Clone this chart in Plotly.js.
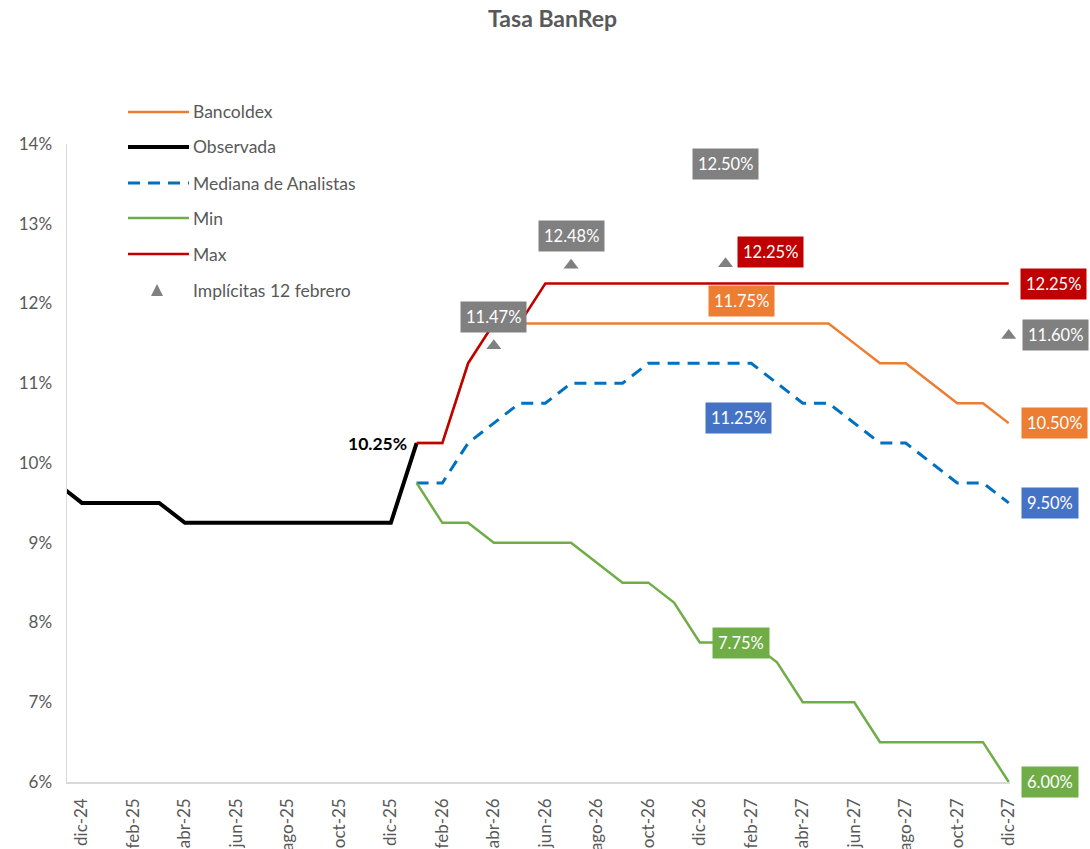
<!DOCTYPE html>
<html>
<head>
<meta charset="utf-8">
<script src="https://cdn.plot.ly/plotly-3.0.1.min.js"></script>
<style>
  html, body { margin: 0; padding: 0; background: #fff; }
  #chart { width: 1090px; height: 849px; }
</style>
</head>
<body>
<div id="chart"></div>
<script>
// months on the category axis (nov-24 is only there so the line enters from the left edge)
const months = ['nov-24','dic-24','ene-25','feb-25','mar-25','abr-25','may-25','jun-25','jul-25','ago-25',
  'sep-25','oct-25','nov-25','dic-25','ene-26','feb-26','mar-26','abr-26','may-26','jun-26','jul-26',
  'ago-26','sep-26','oct-26','nov-26','dic-26','ene-27','feb-27','mar-27','abr-27','may-27','jun-27',
  'jul-27','ago-27','sep-27','oct-27','nov-27','dic-27'];

const observedMonths = months.slice(0, 15);   // nov-24 .. ene-26
const observada = [9.75, 9.5, 9.5, 9.5, 9.5, 9.25, 9.25, 9.25, 9.25, 9.25, 9.25, 9.25, 9.25, 9.25, 10.25];

const forecastMonths = months.slice(14);      // ene-26 .. dic-27
const bancoldex = [10.25, 10.25, 11.25, 11.75, 11.75, 11.75, 11.75, 11.75, 11.75, 11.75, 11.75, 11.75,
  11.75, 11.75, 11.75, 11.75, 11.75, 11.5, 11.25, 11.25, 11.0, 10.75, 10.75, 10.5];
const mediana = [9.75, 9.75, 10.25, 10.5, 10.75, 10.75, 11.0, 11.0, 11.0, 11.25, 11.25, 11.25,
  11.25, 11.25, 11.0, 10.75, 10.75, 10.5, 10.25, 10.25, 10.0, 9.75, 9.75, 9.5];
const minimo = [9.75, 9.25, 9.25, 9.0, 9.0, 9.0, 9.0, 8.75, 8.5, 8.5, 8.25, 7.75,
  7.75, 7.75, 7.5, 7.0, 7.0, 7.0, 6.5, 6.5, 6.5, 6.5, 6.5, 6.0];
const maximo = [10.25, 10.25, 11.25, 11.75, 11.75, 12.25, 12.25, 12.25, 12.25, 12.25, 12.25, 12.25,
  12.25, 12.25, 12.25, 12.25, 12.25, 12.25, 12.25, 12.25, 12.25, 12.25, 12.25, 12.25];

const implicitMonths = ['abr-26', 'jul-26', 'ene-27', 'dic-27'];
const implicitas = [11.47, 12.48, 12.50, 11.60];

const tickMonths = months.filter((m, i) => i % 2 === 1);

const C = {
  orange: '#ED7D31', black: '#000000', blue: '#0070C0', green: '#70AD47',
  red: '#C00000', grey: '#808080', boxBlue: '#4472C4', text: '#595959'
};
const FONT = 'Lato, "Open Sans", sans-serif';

const traces = [
  { x: forecastMonths, y: bancoldex, name: 'Bancoldex', mode: 'lines', line: { color: C.orange, width: 2.5 } },
  { x: observedMonths, y: observada, name: 'Observada', mode: 'lines', line: { color: C.black, width: 4 } },
  { x: forecastMonths, y: mediana, name: 'Mediana de Analistas', mode: 'lines',
    line: { color: C.blue, width: 3, dash: '12px,8px' } },
  { x: forecastMonths, y: minimo, name: 'Min', mode: 'lines', line: { color: C.green, width: 2.5 } },
  { x: forecastMonths, y: maximo, name: 'Max', mode: 'lines', line: { color: C.red, width: 2.5 } },
  { x: implicitMonths, y: implicitas, name: 'Implícitas 12 febrero', mode: 'markers', cliponaxis: false,
    marker: { symbol: 'triangle-up', size: 13, color: C.grey } }
];

// helpers: pixel -> paper coords (plot area 67..1010 x 144..782)
const px = p => (p - 67) / 943;
const py = p => (782 - p) / 638;

const last = a => a[a.length - 1];
const at = (arrX, arrY, m) => arrY[arrX.indexOf(m)];
const pct = v => v.toFixed(2) + '%';

function box(x, y, text, bg, opts) {
  return Object.assign({
    x: x, y: y, xref: 'x', yref: 'y', text: text, showarrow: false,
    bgcolor: bg, borderpad: 5, font: { family: FONT, size: 16.5, color: '#ffffff' }
  }, opts || {});
}

const annotations = [
  // right edge labels
  box('dic-27', last(maximo), pct(last(maximo)), C.red, { xanchor: 'left', xshift: 11 }),
  box('dic-27', last(implicitas), pct(last(implicitas)), C.grey, { xanchor: 'left', xshift: 13 }),
  box('dic-27', last(bancoldex), pct(last(bancoldex)), C.orange, { xanchor: 'left', xshift: 12 }),
  box('dic-27', last(mediana), pct(last(mediana)), C.boxBlue, { xanchor: 'left', xshift: 12 }),
  box('dic-27', last(minimo), pct(last(minimo)), C.green, { xanchor: 'left', xshift: 12 }),
  // implied rates
  box('abr-26', implicitas[0], pct(implicitas[0]), C.grey, { yshift: 29 }),
  box('jul-26', implicitas[1], pct(implicitas[1]), C.grey, { yshift: 29 }),
  box('ene-27', implicitas[2], pct(implicitas[2]), C.grey, { yshift: 100 }),
  // mid labels
  box('feb-27', at(forecastMonths, maximo, 'feb-27'), pct(at(forecastMonths, maximo, 'feb-27')), C.red,
    { xshift: 19, yshift: 32 }),
  box('feb-27', at(forecastMonths, bancoldex, 'feb-27'), pct(at(forecastMonths, bancoldex, 'feb-27')), C.orange,
    { xshift: -10, yshift: 22 }),
  box('feb-27', at(forecastMonths, mediana, 'feb-27'), pct(at(forecastMonths, mediana, 'feb-27')), C.boxBlue,
    { xshift: -13, yshift: -55 }),
  box('feb-27', at(forecastMonths, minimo, 'feb-27'), pct(at(forecastMonths, minimo, 'feb-27')), C.green,
    { xshift: -10, yshift: -1 }),
  // last observed
  { x: 'ene-26', y: last(observada), xref: 'x', yref: 'y', text: '<b>' + pct(last(observada)) + '</b>',
    showarrow: false, xanchor: 'right', xshift: -8, font: { family: FONT, size: 17.5, color: '#000' } }
];

// hand-drawn legend, excel style
const legendRows = [
  { name: 'Bancoldex', color: C.orange, width: 2.5, dash: 'solid', y: 112 },
  { name: 'Observada', color: C.black, width: 4, dash: 'solid', y: 147 },
  { name: 'Mediana de Analistas', color: C.blue, width: 3, dash: '12px,8px', y: 183 },
  { name: 'Min', color: C.green, width: 2.5, dash: 'solid', y: 218 },
  { name: 'Max', color: C.red, width: 2.5, dash: 'solid', y: 254 }
];
const shapes = legendRows.map(r => ({
  type: 'line', xref: 'paper', yref: 'paper', x0: px(128), x1: px(189), y0: py(r.y), y1: py(r.y),
  line: { color: r.color, width: r.width, dash: r.dash }
}));
shapes.push({
  type: 'path', xref: 'paper', yref: 'paper', fillcolor: C.grey, line: { width: 0 },
  path: `M ${px(151)},${py(296)} L ${px(163)},${py(296)} L ${px(157)},${py(284)} Z`
});
legendRows.concat([{ name: 'Implícitas 12 febrero', y: 290 }]).forEach(r => {
  annotations.push({
    xref: 'paper', yref: 'paper', x: px(191), y: py(r.y), xanchor: 'left', yanchor: 'middle',
    text: r.name, showarrow: false, font: { family: FONT, size: 17.5, color: C.text }
  });
});

const layout = {
  width: 1090, height: 849,
  margin: { l: 67, r: 80, t: 144, b: 67 },
  paper_bgcolor: '#ffffff', plot_bgcolor: '#ffffff',
  showlegend: false,
  font: { family: FONT, color: C.text },
  title: {
    text: '<b>Tasa BanRep</b>', xref: 'container', x: 0.507, xanchor: 'center',
    yref: 'container', y: 0.978, yanchor: 'middle',
    font: { family: FONT, size: 23, color: C.text }
  },
  xaxis: {
    type: 'category', categoryorder: 'array', categoryarray: months,
    range: [0.42, 37.05],
    tickmode: 'array', tickvals: tickMonths, ticktext: tickMonths, tickangle: -90,
    tickfont: { family: FONT, size: 17, color: C.text },
    showgrid: false, zeroline: false, showline: true, linecolor: '#d9d9d9', linewidth: 1.5,
    ticks: '', ticklabelstandoff: 8, fixedrange: true
  },
  yaxis: {
    range: [6, 14], dtick: 1, ticksuffix: '%',
    tickfont: { family: FONT, size: 17, color: C.text },
    showgrid: false, zeroline: false, showline: true, linecolor: '#d9d9d9', linewidth: 1.5,
    ticks: '', ticklabelstandoff: 10, fixedrange: true
  },
  annotations: annotations,
  shapes: shapes
};

Plotly.newPlot('chart', traces, layout, { displayModeBar: false, staticPlot: true });
</script>
</body>
</html>
